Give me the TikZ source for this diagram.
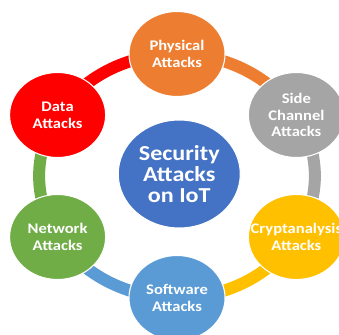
\documentclass[tikz,border=0pt]{standalone}
\usepackage{fontspec}
\setmainfont{Carlito}
\usetikzlibrary{backgrounds}

\definecolor{physC}{HTML}{ED7D31}
\definecolor{sideC}{HTML}{A5A5A5}
\definecolor{cryptC}{HTML}{FFC000}
\definecolor{softC}{HTML}{5B9BD5}
\definecolor{netC}{HTML}{70AD47}
\definecolor{dataC}{HTML}{FF0000}
\definecolor{hubC}{HTML}{4472C4}

\begin{document}
\begin{tikzpicture}[x=0.75pt,y=0.75pt,
  attack/.style={circle, fill=#1, draw=white, line width=0.8pt,
    minimum size=63.75pt, inner sep=0pt, text=white, align=center,
    font=\bfseries\fontsize{11}{12.5}\selectfont},
  hub/.style={circle, fill=hubC, draw=white, line width=0.8pt,
    minimum size=81pt, inner sep=0pt, text=white, align=center,
    font=\bfseries\fontsize{16}{16}\selectfont},
  ring/.style={draw=#1, line width=9pt}]
\useasboundingbox (0,0) rectangle (339,335);
\begin{scope}[shift={(177,159)}, xscale=1.13, transform shape]
  % outer attack categories placed on a ring
  \node[attack=physC]  (phys)  at (90:122)  {Physical\\Attacks};
  \node[attack=sideC]  (side)  at (30:122)  {Side\\Channel\\Attacks};
  \node[attack=cryptC] (crypt) at (-30:122) {\makebox[0pt][c]{Cryptanalysis}\\Attacks};
  \node[attack=softC]  (soft)  at (-90:122) {Software\\Attacks};
  \node[attack=netC]   (net)   at (210:122) {Network\\Attacks};
  \node[attack=dataC]  (data)  at (150:122) {Data\\Attacks};
  % central topic
  \node[hub] (hub) at (2,2) {Security\\Attacks\\on IoT};
  % ring segments, each coloured like the node it leaves
  \begin{scope}[on background layer]
    \draw[ring=physC]  (phys.center)  arc[start angle=90,  end angle=30,   radius=122];
    \draw[ring=sideC]  (side.center)  arc[start angle=30,  end angle=-30,  radius=122];
    \draw[ring=cryptC] (crypt.center) arc[start angle=-30, end angle=-90,  radius=122];
    \draw[ring=softC]  (soft.center)  arc[start angle=-90, end angle=-150, radius=122];
    \draw[ring=netC]   (net.center)   arc[start angle=210, end angle=150,  radius=122];
    \draw[ring=dataC]  (data.center)  arc[start angle=150, end angle=90,   radius=122];
  \end{scope}
\end{scope}
\end{tikzpicture}
\end{document}
